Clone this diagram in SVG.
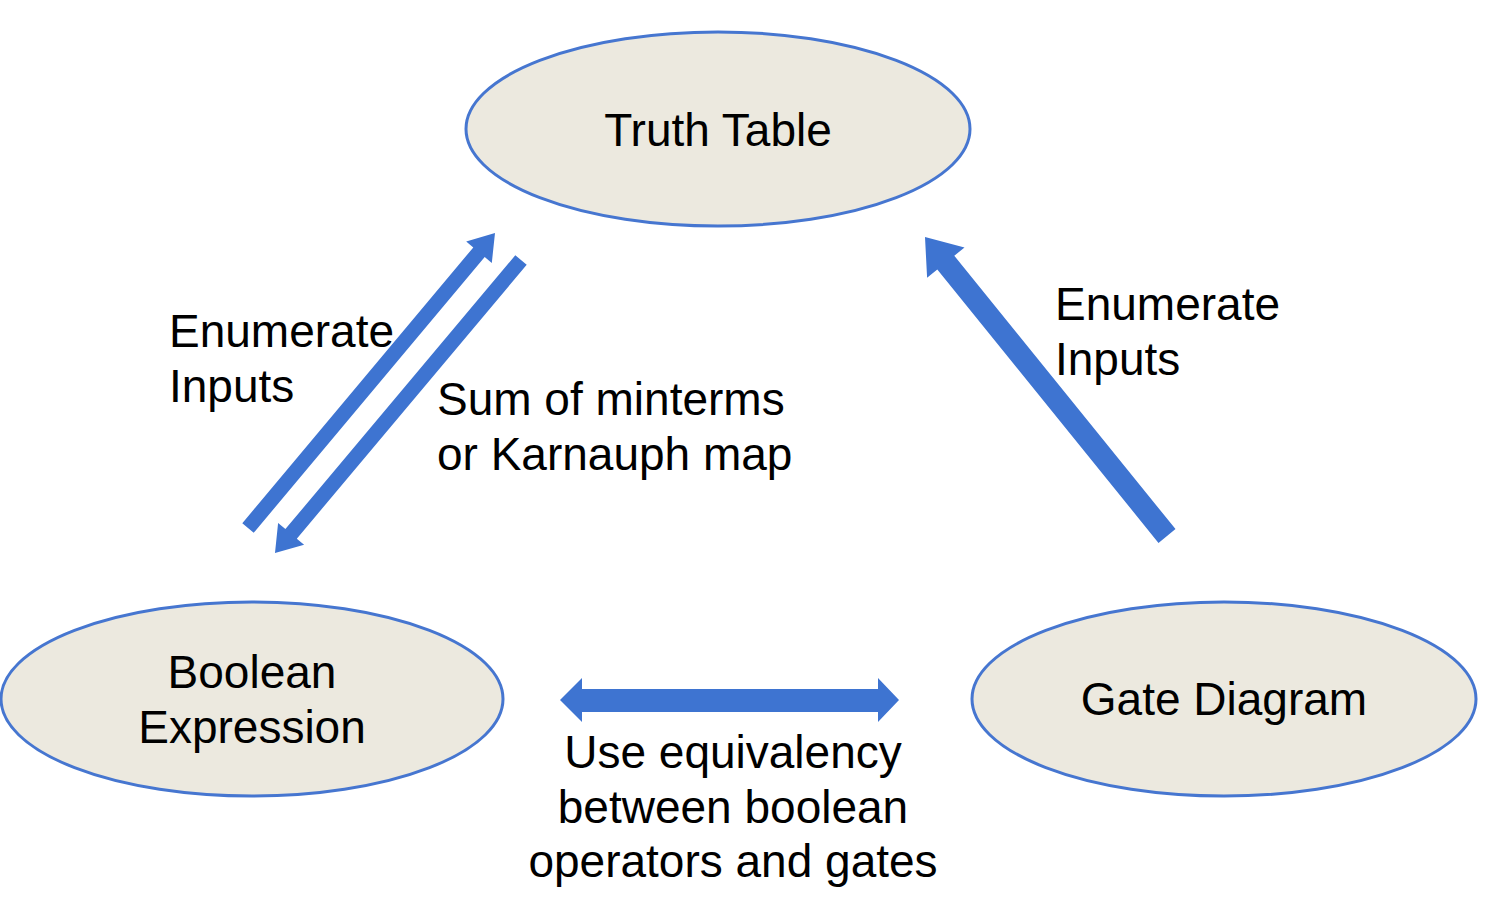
<svg xmlns="http://www.w3.org/2000/svg" width="1492" height="907" viewBox="0 0 1492 907">
<style>
.node ellipse { fill: #ECE9DF; stroke: #4676D0; stroke-width: 3; }
text { font-family: "Liberation Sans", Arial, Helvetica, sans-serif; font-size: 46px; fill: #000; }
.c { text-anchor: middle; }
.arrow { fill: #3E74D1; stroke: none; }
</style>
<rect width="1492" height="907" fill="#FFFFFF"/>
<g id="connectors">
  <polygon id="bool-to-truth" class="arrow" points="253.7,532.8 484.7,257.0 491.8,262.9 495,233 466.2,241.5 473.3,247.4 242.3,523.2"/>
  <polygon id="truth-to-bool" class="arrow" points="526.7,264.8 296.8,538.7 304.1,544.8 275,553 278.1,523.0 285.4,529.1 515.3,255.2"/>
  <polygon id="gate-to-truth" class="arrow" points="1175.5,529.1 954.3,255.7 964.5,247.5 925,237 927.1,277.7 937.3,269.5 1158.5,542.9"/>
  <polygon id="bool-gate" class="arrow" points="560,700 582,678 582,689 878,689 878,678 899,700 878,722 878,712 582,712 582,722"/>
</g>
<g id="truth-table" class="node">
  <ellipse cx="718" cy="129" rx="252" ry="97"/>
  <text class="c" x="718" y="146">Truth Table</text>
</g>
<g id="boolean-expression" class="node">
  <ellipse cx="252" cy="699" rx="251" ry="97"/>
  <text class="c" x="252" y="688">Boolean</text>
  <text class="c" x="252" y="743">Expression</text>
</g>
<g id="gate-diagram" class="node">
  <ellipse cx="1224" cy="699" rx="252" ry="97"/>
  <text class="c" x="1224" y="715">Gate Diagram</text>
</g>
<g id="labels">
  <text x="169" y="347">Enumerate</text>
  <text x="169" y="402">Inputs</text>
  <text x="437" y="415">Sum of minterms</text>
  <text x="437" y="470">or Karnauph map</text>
  <text x="1055" y="320">Enumerate</text>
  <text x="1055" y="375">Inputs</text>
  <text class="c" x="733" y="768">Use equivalency</text>
  <text class="c" x="733" y="823">between boolean</text>
  <text class="c" x="733" y="877">operators and gates</text>
</g>
</svg>
